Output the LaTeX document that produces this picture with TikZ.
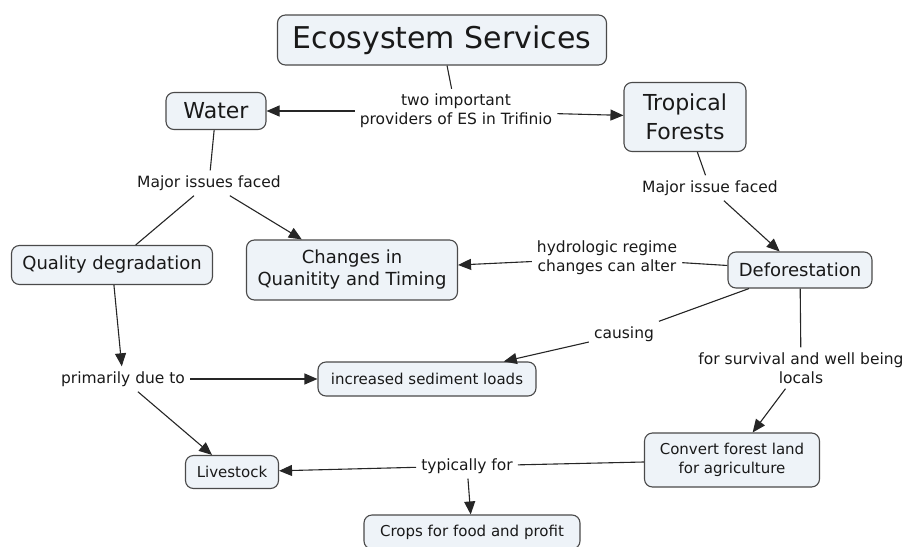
\documentclass[tikz,border=0pt]{standalone}
\usepackage{fontspec}
\setmainfont{DejaVu Sans}
\usetikzlibrary{arrows.meta}
\definecolor{cfill}{HTML}{EEF3F8}
\definecolor{cline}{HTML}{4A4A4A}

\begin{document}
\begin{tikzpicture}[
  x=1pt,y=-1pt,>={Triangle[length=13pt,width=11pt]},
  concept/.style={draw=cline,fill=cfill,line width=1.1pt,rounded corners=8pt,align=center,text=black!90,inner sep=3pt},
  big/.style={concept,font=\fontsize{30}{36}\selectfont},
  mid/.style={concept,font=\fontsize{22}{29}\selectfont},
  med/.style={concept,font=\fontsize{18}{22}\selectfont},
  sml/.style={concept,font=\fontsize{15}{19}\selectfont},
  lbl/.style={font=\fontsize{15.5}{19}\selectfont,align=center,text=black!90,inner sep=5pt},
  con/.style={line width=1.1pt,black!85},
  arr/.style={con,->},
]
\useasboundingbox (0,0) rectangle (907,546);

\node[big,minimum width=329,minimum height=50] (es) at (442,40) {Ecosystem Services};
\node[mid,minimum width=100,minimum height=37] (water) at (216,111) {Water};
\node[mid,minimum width=122,minimum height=69] (trop) at (685,117) {Tropical\\Forests};
\node[med,minimum width=201,minimum height=39] (qual) at (112,265) {Quality degradation};
\node[med,minimum width=211,minimum height=60] (chg) at (352,270) {Changes in\\Quanitity and Timing};
\node[med,minimum width=144,minimum height=36] (defor) at (800,270) {Deforestation};
\node[sml,minimum width=218,minimum height=34] (sed) at (427,379) {increased sediment loads};
\node[sml,minimum width=175,minimum height=54] (conv) at (732,460) {Convert forest land\\for agriculture};
\node[sml,minimum width=93,minimum height=33] (live) at (232,472) {Livestock};
\node[sml,minimum width=216,minimum height=34] (crops) at (472,532) {Crops for food and profit};

\node[lbl] (prov) at (456,111) {two important\\providers of ES in Trifinio};
\node[lbl] (majw) at (209,183) {Major issues faced};
\node[lbl] (majt) at (710,188) {Major issue faced};
\node[lbl] (hydro) at (607,258) {hydrologic regime\\changes can alter};
\node[lbl] (caus) at (624,334) {causing};
\node[lbl] (surv) at (801,368) {for survival and well being\\locals};
\node[lbl] (prim) at (123,379) {primarily due to};
\node[lbl] (typ) at (467,466) {typically for};

\draw[con] (es) -- (prov);
\draw[arr] (prov) -- (water);
\draw[arr] (prov) -- (trop);
\draw[con] (water) -- (majw);
\draw[con] (majw) -- (qual);
\draw[arr] (majw) -- (chg);
\draw[con] (trop) -- (majt);
\draw[arr] (majt) -- (defor);
\draw[con] (defor) -- (hydro);
\draw[arr] (hydro) -- (chg);
\draw[con] (defor) -- (caus);
\draw[arr] (caus) -- (sed);
\draw[con] (defor) -- (surv);
\draw[arr] (surv) -- (conv);
\draw[arr] (qual) -- (prim);
\draw[arr] (prim) -- (sed);
\draw[arr] (prim) -- (live);
\draw[con] (conv) -- (typ);
\draw[arr] (typ) -- (live);
\draw[arr] (typ) -- (crops);
\end{tikzpicture}
\end{document}
